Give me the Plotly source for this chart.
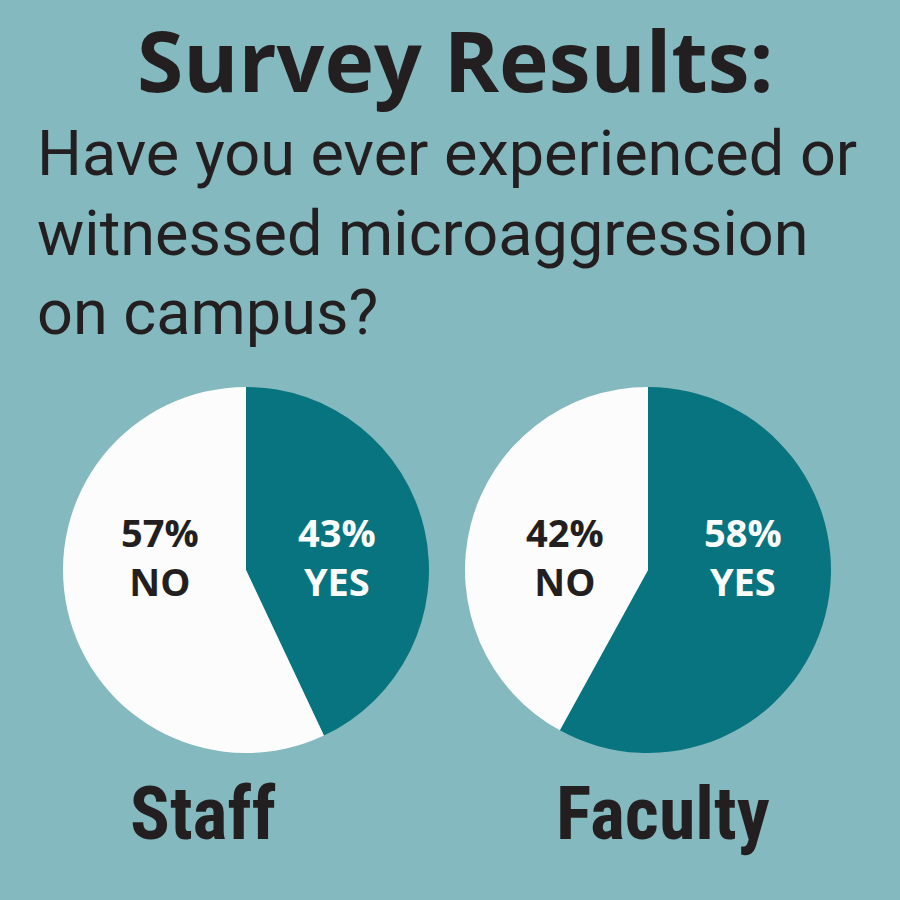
import plotly.graph_objects as go

groups = ["Staff", "Faculty"]
answers = ["YES", "NO"]
staff_pct = [43, 57]
faculty_pct = [58, 42]
values = [staff_pct, faculty_pct]

title_text = "Survey Results:"
question_lines = ["Have you ever experienced or", "witnessed microaggression", "on campus?"]

BG = "#84B9BF"
TEAL = "#07747F"
WHITE = "#FCFCFC"
DARK = "#231F20"
TITLE_FONT = "Open Sans, sans-serif"
GROUP_FONT = "Roboto Condensed, Roboto, sans-serif"
SUB_FONT = "Roboto, Open Sans, sans-serif"
LBL_FONT = "Open Sans, sans-serif"

W = H = 900
def px(x): return x / W
def py(y): return 1 - y / H

centers = [(246, 570), (648, 570)]
R = 183

fig = go.Figure()
for g, vals, (cx, cy) in zip(groups, values, centers):
    fig.add_trace(go.Pie(
        labels=answers, values=vals, sort=False, direction="clockwise", rotation=0,
        marker=dict(colors=[TEAL, WHITE], line=dict(width=0)),
        textinfo="none", hoverinfo="label+percent", showlegend=False, name=g,
        domain=dict(x=[px(cx - R), px(cx + R)], y=[py(cy + R), py(cy - R)]),
    ))

annotations = []
annotations.append(dict(text=f"<b>{title_text}</b>", x=px(455), y=py(60), xanchor="center", yanchor="middle",
                        font=dict(family=TITLE_FONT, size=84, color=DARK)))
line_y = [153, 233, 312]
for t, yy in zip(question_lines, line_y):
    annotations.append(dict(text=t, x=px(35), y=py(yy), xanchor="left", yanchor="middle",
                            font=dict(family=SUB_FONT, size=63, color=DARK)))

label_pos = {"Staff": {"YES": (337, 556), "NO": (160, 556)},
             "Faculty": {"YES": (743, 556), "NO": (565, 556)}}
for g, vals in zip(groups, values):
    for a, v in zip(answers, vals):
        lx, ly = label_pos[g][a]
        col = WHITE if a == "YES" else DARK
        annotations.append(dict(text=f"<b>{v}%<br>{a}</b>", x=px(lx), y=py(ly), xanchor="center", yanchor="middle",
                                font=dict(family=LBL_FONT, size=38, color=col), align="center"))

group_pos = [(203, 813), (663, 813)]
for g, (gx, gy) in zip(groups, group_pos):
    annotations.append(dict(text=f"<b>{g}</b>", x=px(gx), y=py(gy), xanchor="center", yanchor="middle",
                            font=dict(family=GROUP_FONT, size=74, color=DARK)))

for a in annotations:
    a.update(xref="paper", yref="paper", showarrow=False)

fig.update_layout(width=W, height=H, margin=dict(l=0, r=0, t=0, b=0),
                  paper_bgcolor=BG, plot_bgcolor=BG, annotations=annotations)
fig.write_html("out.html", config={"displayModeBar": False},
               post_script="document.body.style.margin='0';document.body.style.padding='0';")
